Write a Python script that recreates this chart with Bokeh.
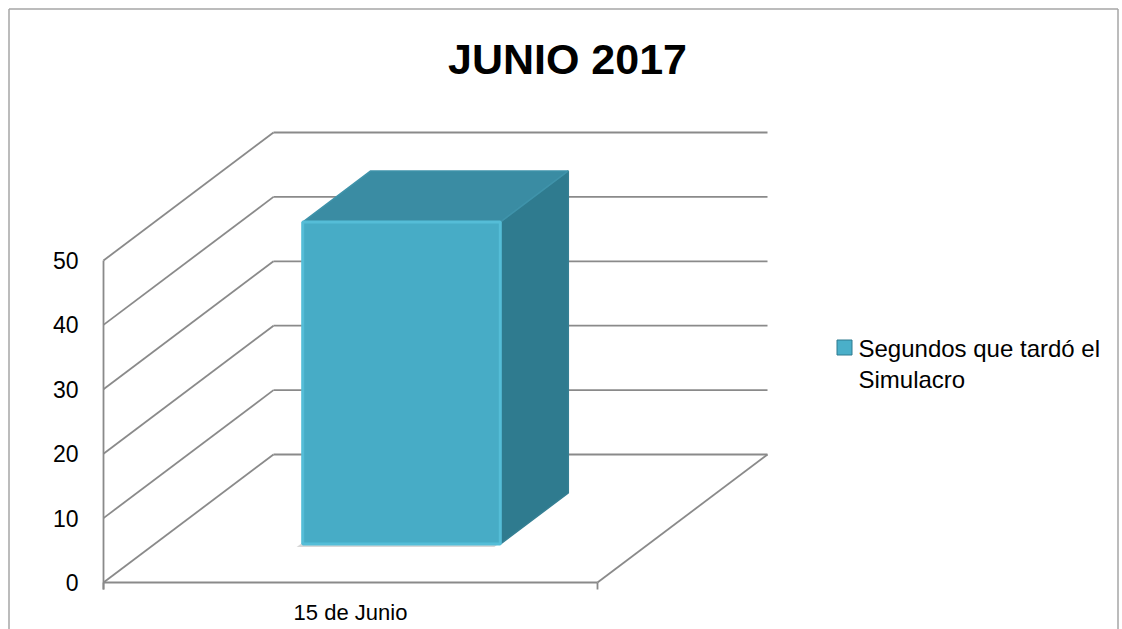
from bokeh.plotting import figure
from bokeh.embed import file_html
from bokeh.resources import INLINE
from bokeh.core.properties import value

# ---------------- data ----------------
TITLE = "JUNIO 2017"
CATEGORIES = ["15 de Junio"]
SERIES_NAME = "Segundos que tardó el Simulacro"
SERIES_VALUES = [50]
Y_TICKS = [0, 10, 20, 30, 40, 50]
Y_MAX = 50
GAP_WIDTH = 1.5     # Excel gap width 150 %
GAP_DEPTH = 1.5

# ---------------- layout ----------------
W, H = 1122, 629
PAGE_OX, PAGE_OY = 0, 0           # figure is rendered at the page's top-left corner
X0_PX, Y0_PX = 103, 582          # page position of front-left floor corner
CAT_PX = 494                      # pixels per category on front plane
UNIT_PX = 6.44                    # pixels per value unit
DEPTH_DX_PX, DEPTH_DY_PX = 170, 128
TICK_PX = 7
DX = DEPTH_DX_PX / CAT_PX
DY = DEPTH_DY_PX / UNIT_PX
TICK = TICK_PX / UNIT_PX
FONT = value("Liberation Sans")


def px2x(px):
    return (px - X0_PX) / CAT_PX


def py2y(py):
    return (Y0_PX - py) / UNIT_PX


def proj(x, z, d):
    return x + d * DX, z + d * DY


p = figure(width=W, height=H,
           x_range=(px2x(PAGE_OX), px2x(PAGE_OX + W)),
           y_range=(py2y(PAGE_OY + H), py2y(PAGE_OY)),
           output_backend="svg", toolbar_location=None,
           x_axis_location=None, y_axis_location=None,
           min_border=0)
p.grid.visible = False
p.outline_line_color = None
p.background_fill_color = "white"
p.border_fill_color = "white"

n = len(CATEGORIES)
GRID = "#8a8a8a"
LW = 1.8

# chart area border (left, top, right) - bottom edge lies below the window
bx0, bx1 = px2x(8.5), px2x(1117.5)
by_top, by_bot = py2y(8.5), py2y(H + 10)
p.multi_line(xs=[[bx0, bx0], [bx0, bx1], [bx1, bx1]],
             ys=[[by_bot, by_top], [by_top, by_top], [by_top, by_bot]],
             line_color="#a6a6a6", line_width=1.5)

# left wall diagonals and back wall gridlines
p.multi_line(xs=[[0, DX] for t in Y_TICKS], ys=[[t, t + DY] for t in Y_TICKS],
             line_color=GRID, line_width=LW)
p.multi_line(xs=[[DX, n + DX] for t in Y_TICKS], ys=[[t + DY, t + DY] for t in Y_TICKS],
             line_color=GRID, line_width=LW)
# front-left vertical edge (value axis)
p.line([0, 0], [-TICK, Y_MAX], line_color=GRID, line_width=LW)
# floor front edge and right edge
p.line([0, n], [0, 0], line_color=GRID, line_width=LW)
p.line([n, n + DX], [0, DY], line_color=GRID, line_width=LW)
# category tick marks
p.multi_line(xs=[[i, i] for i in range(n + 1)], ys=[[0, -TICK] for i in range(n + 1)],
             line_color=GRID, line_width=LW)

# bars
bw = 1 / (1 + GAP_WIDTH)
bd = 1 / (1 + GAP_DEPTH)
front_xs, front_ys, top_xs, top_ys, side_xs, side_ys, sh_xs, sh_ys = [], [], [], [], [], [], [], []
for i, v in enumerate(SERIES_VALUES):
    x0 = i + (1 - bw) / 2
    x1 = x0 + bw
    d0 = (1 - bd) / 2
    d1 = d0 + bd
    pts = [proj(x0, 0, d0), proj(x1, 0, d0), proj(x1, v, d0), proj(x0, v, d0)]
    front_xs.append([a for a, b in pts]); front_ys.append([b for a, b in pts])
    pts = [proj(x0, v, d0), proj(x1, v, d0), proj(x1, v, d1), proj(x0, v, d1)]
    top_xs.append([a for a, b in pts]); top_ys.append([b for a, b in pts])
    pts = [proj(x1, 0, d0), proj(x1, 0, d1), proj(x1, v, d1), proj(x1, v, d0)]
    side_xs.append([a for a, b in pts]); side_ys.append([b for a, b in pts])
    # soft floor shadow
    sx, sy = -6 / CAT_PX, -3 / UNIT_PX
    pts = [proj(x0, 0, d0), proj(x1, 0, d0), proj(x1, 0, d1), proj(x0, 0, d1)]
    sh_xs.append([a + sx for a, b in pts]); sh_ys.append([b + sy for a, b in pts])

p.patches(sh_xs, sh_ys, fill_color="#8c8c8c", fill_alpha=0.35, line_color=None)
p.patches(side_xs, side_ys, fill_color="#2f7b8f", line_color="#357f93", line_width=1.5)
p.patches(top_xs, top_ys, fill_color="#3a8ca3", line_color="#3f93aa", line_width=1.5)
p.patches(front_xs, front_ys, fill_color="#47acc6", line_color="#55bdd7", line_width=3)

# value labels
p.text(x=[px2x(78)] * len(Y_TICKS), y=Y_TICKS, text=[str(t) for t in Y_TICKS],
       text_font=FONT, text_font_size="23px", text_color="#000000",
       text_align="right", text_baseline="middle")
# category labels
p.text(x=[i + 0.5 for i in range(n)], y=[py2y(612)] * n, text=CATEGORIES,
       text_font=FONT, text_font_size="22px", text_color="#000000",
       text_align="center", text_baseline="middle")
# title
p.text(x=[px2x(567)], y=[py2y(58)], text=[TITLE],
       text_font=FONT, text_font_size="43px", text_font_style="bold",
       text_color="#000000", text_align="center", text_baseline="middle")

# legend
p.scatter(x=[px2x(844)], y=[py2y(347)], marker="square", size=15,
          fill_color="#4aafc9", line_color="#2f7b8f", line_width=1)
words = SERIES_NAME.split(" ")
leg_lines = [" ".join(words[:4]), " ".join(words[4:])]
p.text(x=[px2x(858)] * len(leg_lines), y=[py2y(348), py2y(379)], text=leg_lines,
       text_font=FONT, text_font_size="24px", text_color="#000000",
       text_align="left", text_baseline="middle")

open("out.html", "w").write(file_html(p, INLINE))
